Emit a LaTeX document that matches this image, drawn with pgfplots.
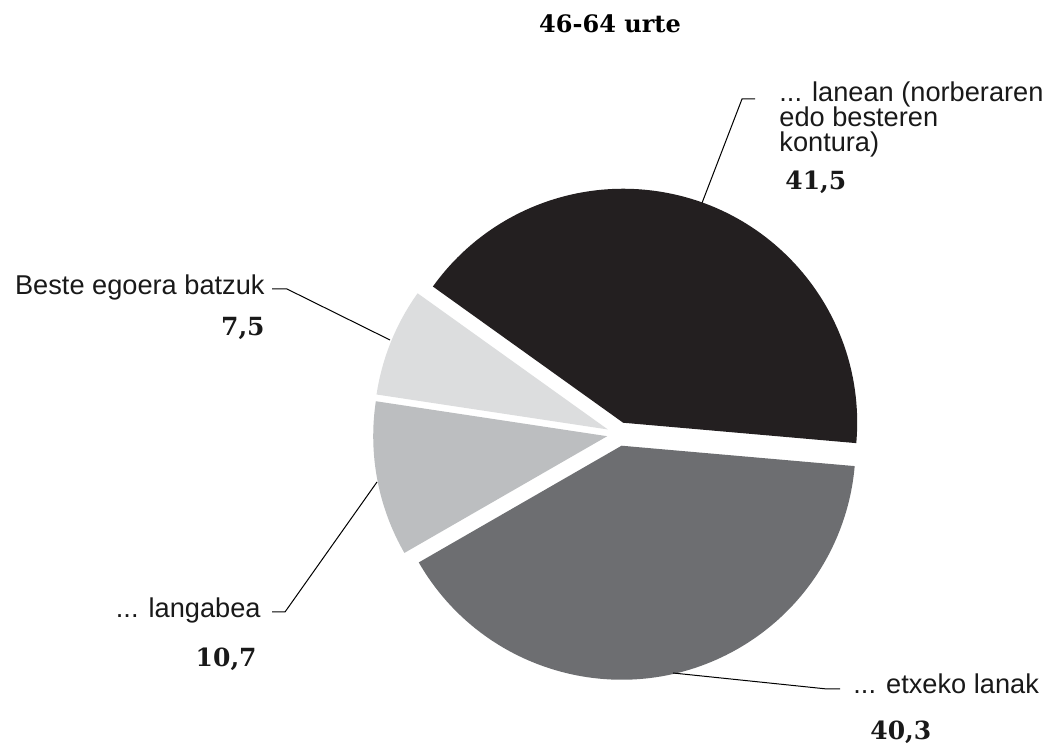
\documentclass[border=0pt]{standalone}
\usepackage{pgfplots}
\usepackage{pgfplotstable}
\pgfplotsset{compat=1.18}
\usepackage{fontspec}
\setmainfont{Liberation Sans}
\newfontfamily\valfont{DejaVu Serif}

\definecolor{cBlack}{HTML}{231F20}
\definecolor{cDark}{HTML}{6D6E71}
\definecolor{cLight}{HTML}{BCBEC0}
\definecolor{cLightest}{HTML}{DCDDDE}

% pie shares, counter-clockwise from the right edge
\pgfplotstableread{
value colour
41.5 cBlack
7.5  cLightest
10.7 cLight
40.3 cDark
}\piedata

\begin{document}
\begin{tikzpicture}
\begin{axis}[
    width=522.5pt, height=373.5pt,
    scale only axis,
    xmin=0, xmax=1045,
    ymin=0, ymax=747,
    y dir=reverse,
    hide axis,
    clip=false,
]
% wedges
\def\startA{-5}
\pgfplotsforeachungrouped \i in {0,...,3}{%
    \pgfplotstablegetelem{\i}{value}\of\piedata
    \let\v\pgfplotsretval
    \pgfplotstablegetelem{\i}{colour}\of\piedata
    \let\col\pgfplotsretval
    \pgfmathsetmacro\endA{\startA+3.6*\v}
    \pgfmathsetmacro\midA{(\startA+\endA)/2}
    \edef\cmd{\noexpand\fill[\col] (axis cs:619,434) ++(\midA:6pt) -- ++(\startA:117pt)
        arc[start angle=\startA, end angle=\endA, radius=117pt] -- cycle;}
    \cmd
    \global\let\startA\endA
}

% leader lines
\addplot[black, line width=0.5pt] coordinates {(702,203) (742,99) (755,99)};
\addplot[black, line width=0.5pt] coordinates {(272,289) (287,289) (390,340)};
\addplot[black, line width=0.5pt] coordinates {(272,612) (285,612) (377,482)};
\addplot[black, line width=0.5pt] coordinates {(673,673) (827,689) (840,689)};

% title
\node[anchor=base, font=\valfont\bfseries\fontsize{12}{14}\selectfont] at (axis cs:610,33) {46-64 urte};

% labels
\tikzset{lbl/.style={inner sep=0pt, font=\fontsize{13.6}{16}\selectfont, text=black!90}}
\tikzset{val/.style={inner sep=0pt, font=\valfont\bfseries\fontsize{12.5}{14}\selectfont, text=black!90}}
\node[lbl, anchor=base west] at (axis cs:779,102) {... lanean (norberaren};
\node[lbl, anchor=base west] at (axis cs:779,127) {edo besteren};
\node[lbl, anchor=base west] at (axis cs:779,152) {kontura)};
\node[val, anchor=base west] at (axis cs:785,190) {41,5};

\node[lbl, anchor=base east] at (axis cs:265,295) {Beste egoera batzuk};
\node[val, anchor=base east] at (axis cs:265,336) {7,5};

\node[lbl, anchor=base east] at (axis cs:261,618) {... langabea};
\node[val, anchor=base east] at (axis cs:257,667) {10,7};

\node[lbl, anchor=base west] at (axis cs:853,694) {... etxeko lanak};
\node[val, anchor=base west] at (axis cs:870,740) {40,3};
\end{axis}
\pgfresetboundingbox
\path (0,0) rectangle (522.5pt,373.5pt);
\end{tikzpicture}
\end{document}
